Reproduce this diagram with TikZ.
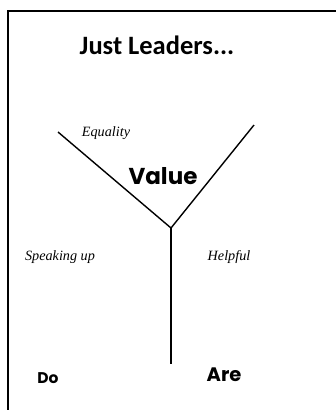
\documentclass[tikz,border=0pt]{standalone}
\usepackage{fontspec}
\newfontfamily\titlefont{Carlito}
\newfontfamily\popfont{Poppins}
\newfontfamily\handfont{Liberation Serif}
\tikzset{
  line/.style={line width=1.4pt, black},
  title/.style={font=\titlefont\bfseries\fontsize{26.5}{30}\selectfont, inner sep=0pt},
  valueword/.style={font=\popfont\bfseries\fontsize{23}{27}\selectfont, inner sep=0pt},
  areword/.style={font=\popfont\bfseries\fontsize{19.5}{23}\selectfont, inner sep=0pt},
  smallword/.style={font=\popfont\bfseries\fontsize{15.5}{18}\selectfont, inner sep=0pt},
  handword/.style={font=\handfont\itshape\fontsize{14.2}{16}\selectfont, inner sep=0pt},
}
\begin{document}
\begin{tikzpicture}[x=1pt,y=-1pt]
\useasboundingbox (0,0) rectangle (336,410);
\fill[white] (0,0) rectangle (336,410);
\coordinate (frameTR) at (337,11);
\coordinate (frameTL) at (8,11);
\coordinate (frameBL) at (8,411);
\draw[line] (frameTR) -- (frameTL) -- (frameBL);
\node[title] (t) at (157,45) {Just Leaders...};
\coordinate (armL) at (58,132);
\coordinate (armR) at (254,125);
\coordinate (junc) at (171,228);
\coordinate (stem) at (171,364);
\draw[line] (armL) -- (junc) -- (armR);
\draw[line] (junc) -- (stem);
\node[handword] (eq) at (106,133) {Equality};
\node[valueword] (val) at (163,176) {Value};
\node[handword] (sp) at (60,257) {Speaking up};
\node[handword] (he) at (229,257) {Helpful};
\node[smallword] (do) at (48,378) {Do};
\node[areword] (are) at (224,375) {Are};
\end{tikzpicture}
\end{document}
